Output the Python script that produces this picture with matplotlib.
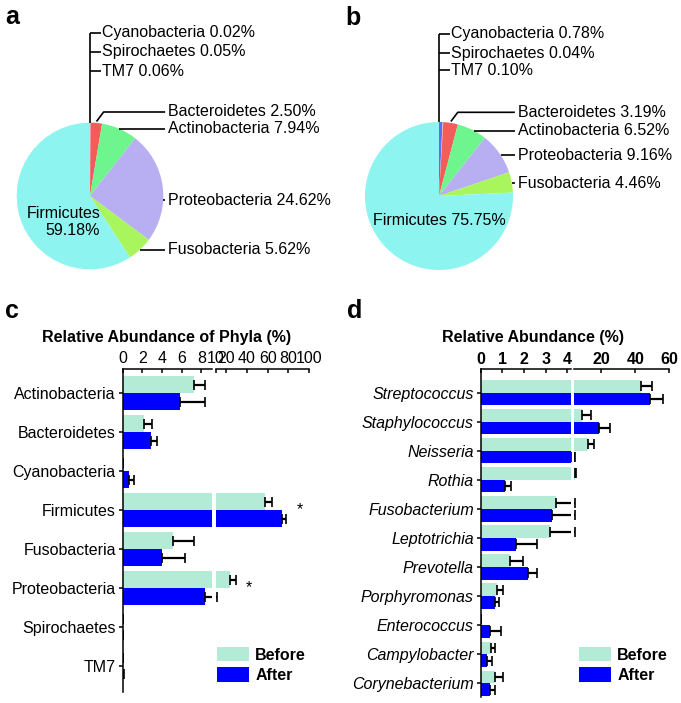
import numpy as np
import matplotlib.pyplot as plt
from matplotlib.patches import Patch

plt.rcParams['font.family'] = ['Liberation Sans', 'DejaVu Sans']
FS = 11.5

# pie data (a = before, b = after)
pie_names = ["Cyanobacteria", "Spirochaetes", "TM7", "Bacteroidetes",
             "Actinobacteria", "Proteobacteria", "Fusobacteria", "Firmicutes"]
pie_before = [0.02, 0.05, 0.06, 2.50, 7.94, 24.62, 5.62, 59.18]
pie_after = [0.78, 0.04, 0.10, 3.19, 6.52, 9.16, 4.46, 75.75]
pie_colors = ["#5B6FF2", "#F2A65B", "#C8C8C8", "#F45B5B",
              "#6EF58E", "#B8AEF2", "#A9F55E", "#8EF4F0"]

# phyla bars (c)
phyla = ["Actinobacteria", "Bacteroidetes", "Cyanobacteria", "Firmicutes",
         "Fusobacteria", "Proteobacteria", "Spirochaetes", "TM7"]
phyla_before = [7.2, 2.16, 0.0, 57.5, 5.08, 23.8, 0.03, 0.03]
phyla_before_err = [1.2, 0.84, 0.0, 6.4, 2.2, 5.3, 0.02, 0.03]
phyla_after = [5.85, 2.84, 0.61, 73.5, 3.99, 8.36, 0.02, 0.05]
phyla_after_err = [2.55, 0.61, 0.51, 4.3, 2.37, 2.14, 0.02, 0.05]
phyla_signif = ["Firmicutes", "Proteobacteria"]

# genus bars (d)
genera = ["Streptococcus", "Staphylococcus", "Neisseria", "Rothia",
          "Fusobacterium", "Leptotrichia", "Prevotella", "Porphyromonas",
          "Enterococcus", "Campylobacter", "Corynebacterium"]
genus_before = [43.6, 8.5, 12.0, 4.3, 3.47, 3.19, 1.35, 0.75, 0.02, 0.47, 0.66]
genus_before_err = [6.4, 5.3, 3.9, 0.9, 0.83, 1.11, 0.59, 0.29, 0.0, 0.19, 0.38]
genus_after = [48.8, 18.4, 4.2, 1.12, 3.29, 1.61, 2.16, 0.66, 0.44, 0.31, 0.43]
genus_after_err = [7.4, 6.6, 0.4, 0.26, 1.01, 0.97, 0.45, 0.2, 0.5, 0.19, 0.23]

c_before = "#B3EBD6"
c_after = "#0000FF"

W, H = 681, 703
fig = plt.figure(figsize=(W / 100, H / 100), dpi=100)


def px_rect(x0, y0, x1, y1):
    # pixel box (top-down) -> figure fraction
    return [x0 / W, 1 - y1 / H, (x1 - x0) / W, (y1 - y0) / H]


def draw_pie(box, cx, cy, r, values, top_ys, right_ys, firm_xy, firm_text, firm_ha):
    x0, y0, x1, y1 = box
    ax = fig.add_axes(px_rect(x0, y0, x1, y1))
    wedges, _ = ax.pie(values, colors=pie_colors, startangle=90,
                       counterclock=False, radius=1,
                       wedgeprops=dict(linewidth=0))
    ax.set_aspect('auto')
    ax.set_xlim((x0 - cx) / r, (x1 - cx) / r)
    ax.set_ylim((cy - y1) / r, (cy - y0) / r)
    ax.axis('off')
    kw = dict(color='black', lw=1.2, solid_capstyle='butt', clip_on=False)
    # tiny slices: stacked labels above the pie
    ax.plot([0, 0], [1, top_ys[0]], **kw)
    for i, ly in enumerate(top_ys):
        ax.plot([0, 0.15], [ly, ly], **kw)
        ax.text(0.16, ly, f"{pie_names[i]} {values[i]:.2f}%", fontsize=FS,
                va='center', ha='left')
    # right side labels
    for k, ly in enumerate(right_ys):
        i = k + 3
        w = wedges[i]
        s1, s2 = np.sin(np.radians(w.theta1)), np.sin(np.radians(w.theta2))
        if min(s1, s2) <= ly <= max(s1, s2):
            pts = [(np.sqrt(1 - ly ** 2), ly), (1.025, ly)]
        else:
            mid = np.radians((w.theta1 + w.theta2) / 2)
            axp, ayp = np.cos(mid) * 1.02, np.sin(mid) * 1.02
            pts = [(axp, ayp), (axp + 0.75 * (ly - ayp), ly), (1.025, ly)]
        xs, ys = zip(*pts)
        ax.plot(xs, ys, **kw)
        ax.text(1.065, ly, f"{pie_names[i]} {values[i]:.2f}%", fontsize=FS,
                va='center', ha='left')
    ax.text(firm_xy[0], firm_xy[1], firm_text, fontsize=FS, ha=firm_ha,
            va='center', multialignment='right', linespacing=1.15)


draw_pie((0, 0, 340, 300), 90, 196, 73.3, pie_before,
         [2.224, 1.965, 1.705], [1.146, 0.918, -0.055, -0.733],
         (0.14, -0.36), f"Firmicutes\n{pie_before[-1]:.2f}%", 'right')
draw_pie((340, 0, 681, 300), 439, 196, 74, pie_after,
         [2.19, 1.93, 1.70], [1.131, 0.882, 0.554, 0.172],
         (0.01, -0.33), f"Firmicutes {pie_after[-1]:.2f}%", 'center')


def broken_bars(left_box, right_box, lim_l, lim_r, ticks_l, ticks_r, ylim,
                cats, before, b_err, after, a_err, bold_ticks, italic):
    ax_l = fig.add_axes(px_rect(*left_box))
    ax_r = fig.add_axes(px_rect(*right_box))
    n = len(cats)
    y = np.arange(n)
    h = 0.435
    zero = np.zeros(n)
    ekw = dict(fmt='none', ecolor='black', elinewidth=1.6, capsize=3.3,
               capthick=1.2)
    for ax in (ax_l, ax_r):
        bb = ax.barh(y - h / 2, before, height=h, color=c_before, label="Before")
        ba = ax.barh(y + h / 2, after, height=h, color=c_after, label="After")
        ax.errorbar(before, y - h / 2, xerr=[zero, b_err], **ekw)
        ax.errorbar(after, y + h / 2, xerr=[zero, a_err], **ekw)
        ax.set_ylim(*ylim)
        ax.xaxis.tick_top()
        ax.spines['bottom'].set_visible(False)
        ax.spines['right'].set_visible(False)
        ax.spines['top'].set_linewidth(1.1)
        ax.spines['left'].set_linewidth(1.1)
        ax.tick_params(axis='x', direction='in', length=3, width=1.1, pad=2,
                       labelsize=FS)
        if bold_ticks:
            for t in ax.get_xticklabels():
                t.set_fontweight('bold')
    ax_l.set_xlim(*lim_l)
    ax_r.set_xlim(*lim_r)
    ax_l.set_xticks(ticks_l)
    ax_r.set_xticks(ticks_r)
    if bold_ticks:
        for ax in (ax_l, ax_r):
            for t in ax.get_xticklabels():
                t.set_fontweight('bold')
    ax_l.set_yticks(y)
    ax_l.set_yticklabels(cats, fontsize=FS, style='italic' if italic else 'normal')
    ax_l.tick_params(axis='y', direction='out', length=3, width=1.1, pad=2)
    ax_r.spines['left'].set_visible(False)
    ax_r.set_yticks([])
    return ax_l, ax_r, bb, ba


# panel c
c_l, c_r, hb, ha = broken_bars((122.7, 369, 212.3, 691.7), (216, 369, 309, 691.7),
                               (0, 9.1), (10, 100), [0, 2, 4, 6, 8],
                               [10, 20, 40, 60, 80, 100], (7.66, -0.62),
                               phyla, phyla_before, phyla_before_err,
                               phyla_after, phyla_after_err, False, False)
for name in phyla_signif:
    i = phyla.index(name)
    top = max(phyla_before[i] + phyla_before_err[i], phyla_after[i] + phyla_after_err[i])
    c_r.text(top + 13, i, "*", ha='center', va='center', fontsize=FS)
c_r.legend([hb, ha], ["Before", "After"], loc='upper left',
           bbox_to_anchor=(217 / W, 1 - 647 / H), bbox_transform=fig.transFigure,
           frameon=False, prop={'weight': 'bold', 'size': FS}, handlelength=2.0,
           handleheight=1.0, handletextpad=0.4, labelspacing=0.3, borderpad=0,
           borderaxespad=0)

# panel d
d_l, d_r, hb2, ha2 = broken_bars((480.7, 369.3, 570.7, 696.7), (574, 369.3, 669.3, 696.7),
                                 (0, 4.15), (4, 60), [0, 1, 2, 3, 4],
                                 [20, 40, 60], (10.46, -0.8),
                                 genera, genus_before, genus_before_err,
                                 genus_after, genus_after_err, True, True)
d_r.legend([hb2, ha2], ["Before", "After"], loc='upper left',
           bbox_to_anchor=(579 / W, 1 - 647 / H), bbox_transform=fig.transFigure,
           frameon=False, prop={'weight': 'bold', 'size': FS}, handlelength=2.0,
           handleheight=1.0, handletextpad=0.4, labelspacing=0.3, borderpad=0,
           borderaxespad=0)

fig.text(166.7 / W, 1 - 341.7 / H, "Relative Abundance of Phyla (%)", ha='center',
         va='baseline', fontsize=FS, fontweight='bold')
fig.text(533.3 / W, 1 - 341.7 / H, "Relative Abundance (%)", ha='center',
         va='baseline', fontsize=FS, fontweight='bold')

for lab, x, yb in [("a", 5, 24), ("b", 345, 25), ("c", 5, 318), ("d", 347, 318)]:
    fig.text(x / W, 1 - yb / H, lab, fontsize=18, fontweight='bold', va='baseline')

fig.savefig("out.png", dpi=100)
